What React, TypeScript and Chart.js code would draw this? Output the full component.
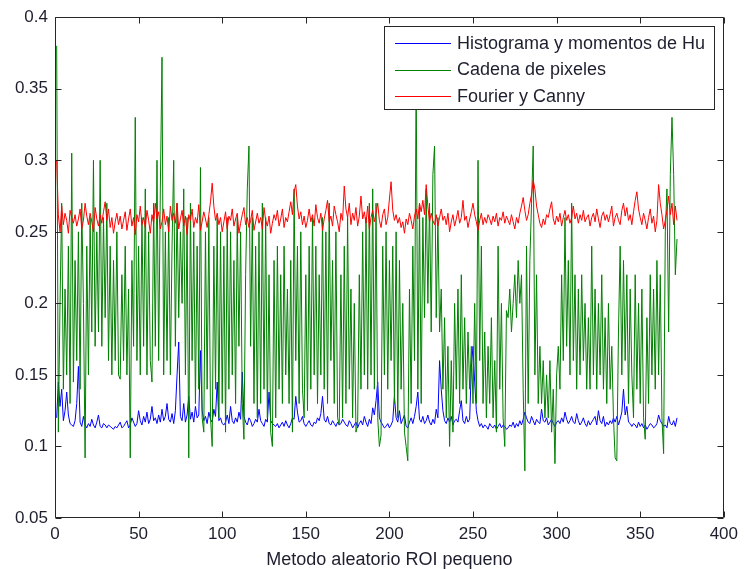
import React, { useEffect, useRef } from 'react';
import { Chart, registerables } from 'chart.js';

Chart.register(...registerables);

const seriesLabels = ['Histograma y momentos de Hu', 'Cadena de pixeles', 'Fourier y Canny'];
const seriesColors = ['#0000ff', '#008000', '#ff0000'];
const xTickValues = [0, 50, 100, 150, 200, 250, 300, 350, 400];
const yTickValues = [0.05, 0.1, 0.15, 0.2, 0.25, 0.3, 0.35, 0.4];
const yTickLabels = ['0.05', '0.1', '0.15', '0.2', '0.25', '0.3', '0.35', '0.4'];
const xAxisTitle = 'Metodo aleatorio ROI pequeno';

// Histograma y momentos de Hu (values x 1000)
const huMilli = [
  120,145,128,140,118,125,138,122,116,115,
  114,118,130,156,117,114,121,115,113,116,
  114,119,115,113,117,122,114,113,116,115,
  113,115,114,113,112,114,113,115,117,113,
  114,116,118,113,115,120,117,114,116,125,
  118,115,121,117,124,116,119,128,118,120,
  116,122,117,126,118,121,130,119,117,123,
  116,125,150,173,121,118,130,117,122,135,
  119,124,117,128,120,122,167,125,118,121,
  116,124,119,117,126,121,145,118,120,116,
  115,117,122,116,128,118,116,120,117,124,
  119,152,121,117,115,120,118,114,116,119,
  117,126,118,116,114,119,117,138,118,116,
  115,114,116,113,115,117,114,118,115,113,
  116,120,119,135,124,117,118,121,116,114,
  116,118,115,114,117,116,120,118,123,135,
  119,117,121,116,115,118,116,114,117,115,
  116,119,117,115,114,118,116,113,115,117,
  113,116,118,115,121,117,114,119,116,127,
  122,132,145,120,117,115,113,114,116,113,
  115,118,135,120,117,125,116,119,122,114,
  113,117,120,116,121,128,138,119,117,121,
  116,118,122,117,115,119,116,126,120,160,
  140,125,118,116,120,117,121,115,118,119,
  117,125,132,118,116,121,117,119,155,170,
  145,125,118,114,116,113,115,114,112,116,
  114,113,115,112,114,116,113,115,114,112,
  113,115,114,117,113,116,114,118,115,119,
  124,120,117,116,121,118,115,119,117,116,
  126,118,117,120,115,117,119,116,114,117,
  118,116,120,117,124,119,116,118,121,117,
  116,123,118,115,117,120,116,114,118,115,
  117,119,121,115,125,118,116,121,114,117,
  115,118,116,120,117,121,115,119,124,140,
  122,128,117,116,114,116,115,113,117,114,
  116,113,115,112,114,116,115,113,114,116,
  122,118,116,114,115,113,121,116,115,118,
  114,120,
];

// Cadena de pixeles
const cadenaValues = [
  0.38,0.11,0.20,0.27,0.14,0.21,0.15,0.24,0.13,0.305,
  0.145,0.23,0.16,0.25,0.14,0.27,0.20,0.092,0.24,0.15,
  0.26,0.18,0.30,0.17,0.25,0.18,0.30,0.17,0.26,0.19,
  0.27,0.16,0.24,0.15,0.23,0.16,0.25,0.15,0.147,0.22,
  0.16,0.24,0.15,0.21,0.092,0.23,0.17,0.33,0.16,0.24,
  0.15,0.26,0.17,0.28,0.15,0.25,0.16,0.145,0.27,0.17,
  0.30,0.16,0.28,0.372,0.15,0.25,0.16,0.26,0.15,0.24,
  0.30,0.17,0.27,0.19,0.25,0.20,0.28,0.15,0.26,0.092,
  0.27,0.16,0.25,0.13,0.24,0.14,0.295,0.12,0.11,0.25,
  0.14,0.26,0.12,0.10,0.24,0.14,0.26,0.12,0.25,0.13,
  0.24,0.11,0.26,0.14,0.25,0.15,0.23,0.13,0.26,0.17,
  0.25,0.13,0.105,0.22,0.28,0.31,0.17,0.26,0.13,0.24,
  0.12,0.25,0.13,0.27,0.14,0.26,0.12,0.22,0.11,0.10,
  0.23,0.12,0.24,0.14,0.22,0.13,0.24,0.15,0.21,0.13,
  0.23,0.11,0.28,0.16,0.24,0.13,0.25,0.14,0.12,0.22,
  0.125,0.24,0.14,0.26,0.15,0.24,0.13,0.22,0.15,0.26,
  0.14,0.25,0.13,0.27,0.16,0.23,0.13,0.25,0.12,0.115,
  0.22,0.12,0.24,0.13,0.26,0.14,0.21,0.12,0.20,0.11,
  0.115,0.22,0.14,0.25,0.15,0.26,0.14,0.27,0.15,0.28,
  0.14,0.27,0.12,0.10,0.108,0.24,0.15,0.25,0.14,0.23,
  0.16,0.24,0.13,0.25,0.12,0.23,0.14,0.20,0.11,0.10,
  0.09,0.21,0.13,0.24,0.16,0.36,0.14,0.27,0.13,0.26,
  0.19,0.28,0.20,0.27,0.18,0.29,0.31,0.19,0.26,0.18,
  0.21,0.14,0.19,0.12,0.17,0.10,0.16,0.11,0.20,0.14,
  0.21,0.13,0.22,0.14,0.19,0.13,0.18,0.14,0.17,0.13,
  0.20,0.13,0.30,0.16,0.24,0.13,0.18,0.12,0.17,0.13,
  0.19,0.12,0.16,0.11,0.24,0.14,0.20,0.12,0.10,0.195,
  0.19,0.21,0.18,0.20,0.22,0.19,0.23,0.20,0.22,0.14,
  0.083,0.24,0.13,0.23,0.27,0.31,0.15,0.22,0.13,0.17,
  0.13,0.16,0.12,0.15,0.12,0.16,0.11,0.14,0.088,0.15,
  0.17,0.14,0.22,0.16,0.26,0.17,0.23,0.15,0.27,0.16,
  0.22,0.14,0.21,0.15,0.22,0.16,0.20,0.14,0.19,0.14,
  0.24,0.15,0.21,0.14,0.20,0.15,0.22,0.14,0.19,0.13,
  0.20,0.14,0.17,0.12,0.092,0.09,0.18,0.24,0.15,0.23,
  0.16,0.22,0.13,0.21,0.15,0.12,0.22,0.14,0.20,0.13,
  0.21,0.12,0.105,0.19,0.13,0.22,0.15,0.21,0.14,0.23,
  0.15,0.22,0.12,0.095,0.25,0.28,0.18,0.29,0.33,0.29,
  0.22,0.245,
];

// Fourier y Canny (values x 1000)
const fourierMilli = [
  300,262,250,268,255,263,258,249,265,260,
  256,262,254,259,266,252,258,270,261,255,
  263,257,250,267,259,254,262,256,264,271,
  258,266,253,260,249,257,263,255,261,252,
  258,264,251,259,266,254,260,248,262,257,
  268,255,260,253,265,258,249,262,256,270,
  259,264,252,257,266,255,261,250,268,258,
  263,256,270,252,259,265,254,261,248,262,
  258,266,253,260,256,269,251,257,264,259,
  253,262,271,284,268,258,263,255,260,250,
  257,264,252,261,258,266,254,259,263,249,
  256,262,267,255,260,253,258,265,251,257,
  263,256,260,252,267,258,254,261,249,256,
  262,258,265,254,259,266,253,260,257,264,
  271,262,278,283,268,259,264,255,261,253,
  258,266,257,262,254,269,260,256,263,251,
  259,265,272,257,261,254,268,262,257,250,
  263,258,282,266,260,270,255,263,258,267,
  254,261,275,259,264,256,268,252,260,265,
  257,263,270,258,253,262,266,255,260,273,
  285,265,258,262,256,260,253,257,249,259,
  255,263,258,252,261,266,259,270,264,272,
  262,283,268,257,263,258,255,262,254,260,
  266,258,261,255,263,250,257,262,254,259,
  265,256,260,272,258,261,253,259,264,270,
  262,257,251,258,263,255,260,256,262,259,
  255,261,257,263,254,260,258,264,256,261,
  258,255,262,257,252,260,256,263,268,274,
  265,258,262,270,276,286,280,268,262,256,
  253,259,255,262,260,266,271,259,255,261,
  257,263,254,260,265,258,262,256,260,268,
  259,263,256,262,258,265,257,260,262,254,
  260,263,257,266,259,253,261,264,258,262,
  257,262,268,254,260,263,258,255,265,270,
  261,267,258,262,255,264,272,278,266,260,
  255,263,258,252,260,266,256,261,250,258,
  283,270,262,252,258,265,275,262,270,255,
  268,258,
];

const FONT = '"Liberation Sans", Arial, sans-serif';
const TEXT_COLOR = '#1e1e2e';

const toPoints = (vals: number[], scale: number) =>
  vals.map((v, i) => ({ x: i + 1, y: v / scale }));

const framePlugin = {
  id: 'matlabFrame',
  afterDatasetsDraw(chart: any) {
    const { ctx, chartArea: a, scales } = chart;
    const xs = scales.x;
    const ys = scales.y;
    const L = Math.round(a.left) + 0.5;
    const R = Math.round(a.right) - 0.5;
    const T = Math.round(a.top) + 0.5;
    const B = Math.round(a.bottom) - 0.5;
    const tl = 6;
    ctx.save();
    ctx.strokeStyle = '#262626';
    ctx.lineWidth = 1;
    ctx.beginPath();
    ctx.rect(L, T, R - L, B - T);
    for (const v of xTickValues) {
      const px = Math.round(xs.getPixelForValue(v)) + 0.5;
      ctx.moveTo(px, B);
      ctx.lineTo(px, B - tl);
      ctx.moveTo(px, T);
      ctx.lineTo(px, T + tl);
    }
    for (const v of yTickValues) {
      const py = Math.round(ys.getPixelForValue(v)) + 0.5;
      ctx.moveTo(L, py);
      ctx.lineTo(L + tl, py);
      ctx.moveTo(R, py);
      ctx.lineTo(R - tl, py);
    }
    ctx.stroke();
    ctx.restore();
  },
  afterDraw(chart: any) {
    const { ctx, chartArea: a } = chart;
    ctx.save();
    ctx.font = `18px ${FONT}`;
    const labels: string[] = chart.data.datasets.map((d: any) => d.label);
    const maxW = Math.max(...labels.map((l: string) => ctx.measureText(l).width));
    const lineLen = 56;
    const padL = 11;
    const gap = 6;
    const padR = 10;
    const rowH = 26.5;
    const boxW = padL + lineLen + gap + maxW + padR;
    const boxH = 84;
    const right = Math.round(a.right) - 9;
    const left = Math.round(right - boxW);
    const top = Math.round(a.top) + 9;
    ctx.fillStyle = '#ffffff';
    ctx.fillRect(left, top, right - left, boxH);
    ctx.strokeStyle = '#262626';
    ctx.lineWidth = 1;
    ctx.strokeRect(left + 0.5, top + 0.5, right - left - 1, boxH - 1);
    ctx.textBaseline = 'middle';
    ctx.textAlign = 'left';
    labels.forEach((label: string, i: number) => {
      const cy = top + 17 + i * rowH;
      const ly = Math.round(cy) + 0.5;
      ctx.strokeStyle = seriesColors[i];
      ctx.lineWidth = 1;
      ctx.beginPath();
      ctx.moveTo(left + padL, ly);
      ctx.lineTo(left + padL + lineLen, ly);
      ctx.stroke();
      ctx.fillStyle = TEXT_COLOR;
      ctx.fillText(label, left + padL + lineLen + gap, cy + 1);
    });
    ctx.restore();
  },
};

export default function App() {
  const canvasRef = useRef<HTMLCanvasElement | null>(null);

  useEffect(() => {
    const canvas = canvasRef.current;
    if (!canvas) return;
    const datasets = [
      { label: seriesLabels[0], data: toPoints(huMilli, 1000), order: 2 },
      { label: seriesLabels[1], data: toPoints(cadenaValues, 1), order: 1 },
      { label: seriesLabels[2], data: toPoints(fourierMilli, 1000), order: 0 },
    ].map((d, i) => ({
      ...d,
      borderColor: seriesColors[i],
      backgroundColor: seriesColors[i],
      borderWidth: 1,
      pointRadius: 0,
      tension: 0,
      fill: false,
    }));

    const chart = new Chart(canvas, {
      type: 'line',
      data: { datasets },
      options: {
        animation: false,
        responsive: false,
        maintainAspectRatio: false,
        layout: { padding: { top: 17, right: 14, bottom: 0, left: 0 } },
        plugins: { legend: { display: false }, tooltip: { enabled: false } },
        scales: {
          x: {
            type: 'linear',
            min: 0,
            max: 400,
            grid: { display: false, drawTicks: false },
            border: { display: false },
            afterBuildTicks: (s: any) => {
              s.ticks = xTickValues.map((v) => ({ value: v }));
            },
            afterFit: (s: any) => {
              s.height = 51;
            },
            ticks: {
              autoSkip: false,
              maxRotation: 0,
              padding: 6,
              color: TEXT_COLOR,
              font: { family: FONT, size: 17 },
              callback: (v: any) => String(v),
            },
            title: {
              display: true,
              text: xAxisTitle,
              color: TEXT_COLOR,
              font: { family: FONT, size: 18, lineHeight: 1 },
              padding: { top: 0, bottom: 0 },
            },
          },
          y: {
            type: 'linear',
            min: 0.05,
            max: 0.4,
            grid: { display: false, drawTicks: false },
            border: { display: false },
            afterBuildTicks: (s: any) => {
              s.ticks = yTickValues.map((v) => ({ value: v }));
            },
            afterFit: (s: any) => {
              s.width = 55;
            },
            ticks: {
              autoSkip: false,
              padding: 7,
              color: TEXT_COLOR,
              font: { family: FONT, size: 17 },
              callback: (v: any) => {
                const idx = yTickValues.findIndex((t) => Math.abs(t - v) < 1e-9);
                return idx >= 0 ? yTickLabels[idx] : '';
              },
            },
          },
        },
      },
      plugins: [framePlugin],
    } as any);

    return () => chart.destroy();
  }, []);

  return (
    <div style={{ position: 'absolute', left: 0, top: 0, width: 744, height: 569, background: '#ffffff' }}>
      <canvas ref={canvasRef} width={744} height={569} style={{ display: 'block', width: 744, height: 569 }} />
    </div>
  );
}
